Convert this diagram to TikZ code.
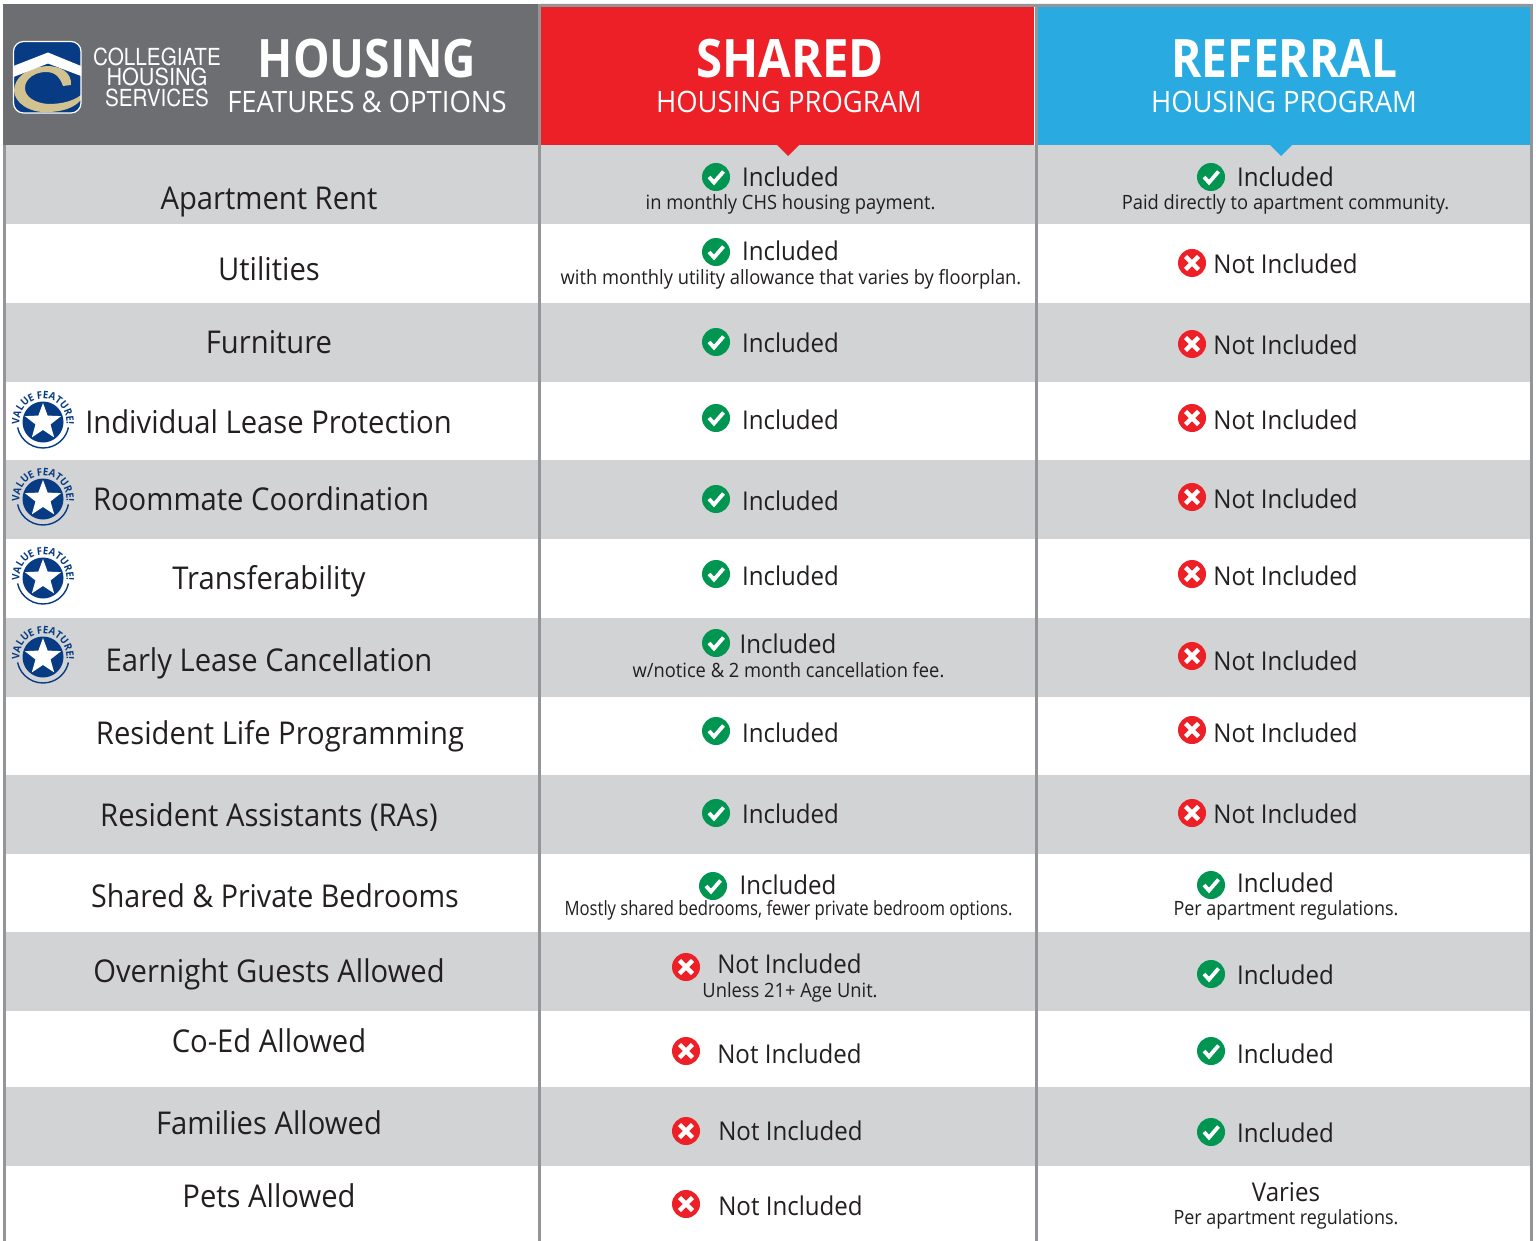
\documentclass[tikz,border=0pt]{standalone}
\usepackage{fontspec}
\setmainfont[FakeStretch=0.93]{Open Sans}
\newfontfamily\heros{TeX Gyre Heros}
\usetikzlibrary{shapes.geometric,decorations.text}
\definecolor{hdrgray}{HTML}{6D6E71}
\definecolor{bandgray}{HTML}{D1D3D4}
\definecolor{rulegray}{HTML}{939598}
\definecolor{chsred}{HTML}{ED2027}
\definecolor{chsblue}{HTML}{29ABE2}
\definecolor{okgreen}{HTML}{009651}
\definecolor{ink}{HTML}{231F20}
\definecolor{navy}{HTML}{073B83}
\definecolor{gold}{HTML}{D2C28F}
\tikzset{
  x=1pt,y=1pt,
  lefttext/.style={anchor=base,inner sep=0,text=ink,font=\fontsize{31.4}{31.4}\selectfont},
  stattext/.style={anchor=base,inner sep=0,text=ink,font=\fontsize{25.9}{25.9}\selectfont},
  subtext/.style={anchor=base,inner sep=0,text=ink,font=\fontsize{19.7}{19.7}\selectfont},
  headbig/.style={anchor=base,inner sep=0,text=white,font=\fontsize{53}{53}\selectfont\bfseries},
  headsub/.style={anchor=base,inner sep=0,text=white,font=\fontsize{29.5}{29.5}\selectfont},
  logotext/.style={anchor=base,inner sep=0,text=white,font=\heros\fontsize{23.5}{23.5}\selectfont},
  disc/.style={circle,inner sep=0,minimum size=28pt},
}
\newcommand{\okmark}[3]{%
  \node[disc,fill=okgreen] (#3) at (#1,-#2) {};
  \draw[white,line width=3.8pt] (#3.center)+(-7,0) -- +(-2,-5.5) -- +(7.5,5.5);
}
\newcommand{\nomark}[3]{%
  \node[disc,fill=chsred] (#3) at (#1,-#2) {};
  \draw[white,line width=4.4pt] (#3.center)+(-6.5,-6.5) -- +(6.5,6.5) (#3.center)+(-6.5,6.5) -- +(6.5,-6.5);
}
\newcommand{\badge}[3]{%
  \node[circle,fill=navy,inner sep=0,minimum size=41pt] (#3) at (#1,-#2) {};
  \node[star,star points=5,star point ratio=2.4,fill=white,inner sep=0,minimum size=38pt] (#3s) at (#1,-#2) {};
  \draw[navy,line width=1.4pt] (#1,-#2)+(-168:26) arc (-168:-12:26);
  \path[decorate,decoration={text along path,text align=center,
     text={|\fontsize{10.4}{10.4}\selectfont\bfseries\color{navy}|VALUE FEATURE!}}]
     (#1,-#2)+(200:23.5) arc (200:-20:23.5);
}
\begin{document}
\begin{tikzpicture}
\useasboundingbox (0,0) rectangle (1536,-1241);
\fill[white] (0,0) rectangle (1536,-1241);
% bands
\foreach \a/\b in {145/224,303/382,460/539,618/697,775/854,932/1011,1087/1166}
  \fill[bandgray] (4,-\a) rectangle (1531,-\b);
% headers
\fill[hdrgray] (3,-4) rectangle (540,-145);
\fill[chsred] (541,-7) rectangle (1034,-145);
\fill[chsblue] (1038,-7) rectangle (1530,-145);
\fill[rulegray] (541,-4) rectangle (1038,-7) (1038,-4) rectangle (1531,-7);
\fill[chsred] (777,-145) -- (799,-145) -- (788,-156) -- cycle;
\fill[chsblue] (1270,-145) -- (1292,-145) -- (1281,-156) -- cycle;
% rules
\fill[rulegray] (3,-145) rectangle (5.5,-1241);
\fill[rulegray] (538,-4) rectangle (541,-1241);
\fill[rulegray] (1034.5,-4) rectangle (1038,-1241);
\fill[rulegray] (1530,-4) rectangle (1533,-1241);
% logo
\begin{scope}
\clip[rounded corners=10pt] (13.5,-41.5) rectangle (81,-113);
\fill[navy] (13.5,-41.5) rectangle (81,-113);
\fill[gold] (71,-85) .. controls (72,-72) and (60,-66) .. (47,-66) .. controls (25,-68) and (15,-78) .. (14,-90) .. controls (14,-103) and (30,-113) .. (47,-112) .. controls (62,-112) and (74,-108) .. (81,-100) -- (81,-95) .. controls (72,-102) and (60,-104) .. (48,-104) .. controls (35,-103) and (25,-97) .. (25,-88) .. controls (25,-78) and (36,-72) .. (46,-72) .. controls (56,-72) and (60,-78) .. (63,-86) -- cycle;
\fill[white] (13.5,-66) -- (48,-52.5) -- (81,-66) -- (81,-76) -- (48,-63.5) -- (13.5,-77) -- cycle;
\end{scope}
\draw[white,line width=1.2pt,rounded corners=10pt] (13.5,-41.5) rectangle (81,-113);
\node[logotext] (lg1) at (157,-65.5) {\scalebox{0.88}[1]{COLLEGIATE}};
\node[logotext] (lg2) at (157,-86) {\scalebox{0.92}[1]{HOUSING}};
\node[logotext] (lg3) at (157,-107) {\scalebox{0.88}[1]{SERVICES}};
\node[headbig] (h1) at (367,-78) {\scalebox{0.935}[1]{HOUSING}};
\node[headsub] (h1s) at (367,-113) {FEATURES \& OPTIONS};
\node[headbig] (h2) at (790,-78) {\scalebox{0.96}[1]{SHARED}};
\node[headsub] (h2s) at (789,-113) {HOUSING PROGRAM};
\node[headbig] (h3) at (1284.5,-78) {\scalebox{0.935}[1]{REFERRAL}};
\node[headsub] (h3s) at (1284,-113) {HOUSING PROGRAM};
% left labels
\node[lefttext] (l1) at (269,-210) {Apartment Rent};
\node[lefttext] (l2) at (269,-280) {Utilities};
\node[lefttext] (l3) at (269,-353) {Furniture};
\node[lefttext] (l4) at (268.5,-433) {Individual Lease Protection};
\node[lefttext] (l5) at (261,-510) {Roommate Coordination};
\node[lefttext] (l6) at (269,-589) {Transferability};
\node[lefttext] (l7) at (269,-671) {Early Lease Cancellation};
\node[lefttext] (l8) at (280,-744) {Resident Life Programming};
\node[lefttext] (l9) at (269,-826) {Resident Assistants (RAs)};
\node[lefttext] (l10) at (275,-907) {\scalebox{0.98}[1]{Shared \& Private Bedrooms}};
\node[lefttext] (l11) at (269,-982) {Overnight Guests Allowed};
\node[lefttext] (l12) at (269,-1052) {Co-Ed Allowed};
\node[lefttext] (l13) at (269,-1134) {Families Allowed};
\node[lefttext] (l14) at (269,-1207) {Pets Allowed};
% badges
\badge{43}{422}{b1}
\badge{43}{499}{b2}
\badge{43}{578}{b3}
\badge{43}{657}{b4}
% middle column
\okmark{716}{177}{m1}
\node[stattext] (mt1) at (790.5,-187) {Included};
\node[subtext] (ms1) at (790.5,-210) {in monthly CHS housing payment.};
\okmark{716}{252}{m2}
\node[stattext] (mt2) at (790.5,-261) {Included};
\node[subtext] (ms2) at (791,-284.5) {with monthly utility allowance that varies by floorplan.};
\okmark{716}{342}{m3}
\node[stattext] (mt3) at (790.5,-352) {Included};
\okmark{716}{418}{m4}
\node[stattext] (mt4) at (790.5,-429) {Included};
\okmark{716}{499}{m5}
\node[stattext] (mt5) at (790.5,-510) {Included};
\okmark{716}{574}{m6}
\node[stattext] (mt6) at (790.5,-585) {Included};
\okmark{716}{643}{m7}
\node[stattext] (mt7) at (788,-653) {Included};
\node[subtext] (ms7) at (788.5,-677) {w/notice \& 2 month cancellation fee.};
\okmark{716}{731}{m8}
\node[stattext] (mt8) at (790.5,-742) {Included};
\okmark{716}{813}{m9}
\node[stattext] (mt9) at (790.5,-823) {Included};
\okmark{713}{886}{m10}
\node[stattext] (mt10) at (788,-894) {Included};
\node[subtext] (ms10) at (788.5,-915) {\scalebox{0.91}[1]{Mostly shared bedrooms, fewer private bedroom options.}};
\nomark{686}{967}{m11}
\node[stattext] (mt11) at (789.5,-973) {Not Included};
\node[subtext] (ms11) at (790,-997) {Unless 21+ Age Unit.};
\nomark{686}{1051}{m12}
\node[stattext] (mt12) at (789.5,-1063) {Not Included};
\nomark{686}{1131}{m13}
\node[stattext] (mt13) at (790.5,-1140) {Not Included};
\nomark{686}{1204}{m14}
\node[stattext] (mt14) at (790.5,-1215) {Not Included};
% right column
\okmark{1211}{177}{r1}
\node[stattext] (rt1) at (1285.5,-187) {Included};
\node[subtext] (rs1) at (1285.5,-210) {Paid directly to apartment community.};
\nomark{1192}{263}{r2}
\node[stattext] (rt2) at (1285.5,-274) {Not Included};
\nomark{1192}{344}{r3}
\node[stattext] (rt3) at (1285.5,-354) {Not Included};
\nomark{1192}{418}{r4}
\node[stattext] (rt4) at (1285.5,-429) {Not Included};
\nomark{1192}{497}{r5}
\node[stattext] (rt5) at (1285.5,-508) {Not Included};
\nomark{1192}{574}{r6}
\node[stattext] (rt6) at (1285.5,-585) {Not Included};
\nomark{1192}{656}{r7}
\node[stattext] (rt7) at (1285.5,-670) {Not Included};
\nomark{1192}{730}{r8}
\node[stattext] (rt8) at (1285.5,-742) {Not Included};
\nomark{1192}{813}{r9}
\node[stattext] (rt9) at (1285.5,-823) {Not Included};
\okmark{1211}{885}{r10}
\node[stattext] (rt10) at (1285.5,-892) {Included};
\node[subtext] (rs10) at (1286,-915) {\scalebox{0.98}[1]{Per apartment regulations.}};
\okmark{1211}{974}{r11}
\node[stattext] (rt11) at (1285.5,-984) {Included};
\okmark{1211}{1051}{r12}
\node[stattext] (rt12) at (1285.5,-1063) {Included};
\okmark{1211}{1132}{r13}
\node[stattext] (rt13) at (1285.5,-1142) {Included};
\node[stattext] (rt14) at (1286,-1201) {Varies};
\node[subtext] (rs14) at (1286,-1224) {\scalebox{0.98}[1]{Per apartment regulations.}};
\end{tikzpicture}
\end{document}
